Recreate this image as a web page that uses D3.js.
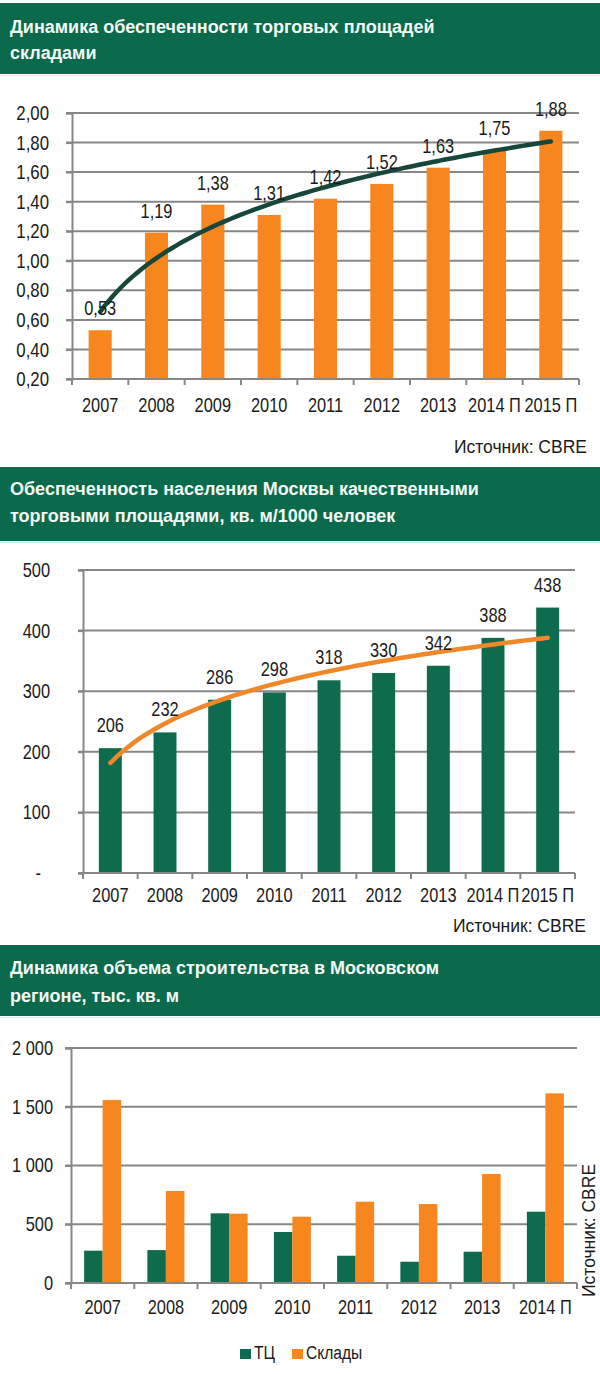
<!DOCTYPE html>
<html><head><meta charset="utf-8">
<script src="https://cdn.jsdelivr.net/npm/d3@7"></script>
<style>
html,body{margin:0;padding:0;background:#fff;}
svg{display:block;}
</style></head>
<body>
<script>
// ---------- DATA ----------
const titles1 = ["Динамика обеспеченности торговых площадей", "складами"];
const categories1 = ["2007","2008","2009","2010","2011","2012","2013","2014 П","2015 П"];
const values1 = [0.53,1.19,1.38,1.31,1.42,1.52,1.63,1.75,1.88];
const yTicks1 = [0.2,0.4,0.6,0.8,1.0,1.2,1.4,1.6,1.8,2.0];

const titles2 = ["Обеспеченность населения Москвы качественными", "торговыми площадями, кв. м/1000 человек"];
const categories2 = ["2007","2008","2009","2010","2011","2012","2013","2014 П","2015 П"];
const values2 = [206,232,286,298,318,330,342,388,438];
const yTicks2 = [0,100,200,300,400,500];

const titles3 = ["Динамика объема строительства в Московском", "регионе, тыс. кв. м"];
const categories3 = ["2007","2008","2009","2010","2011","2012","2013","2014 П"];
const seriesNames3 = ["ТЦ","Склады"];
const valuesTC = [275,280,593,434,232,181,266,607];
const valuesSklad = [1557,783,590,564,692,672,928,1614];
const yTicks3 = [0,500,1000,1500,2000];

const sourceText = "Источник: CBRE";

// ---------- STYLE ----------
const GREEN_BANNER = "#0b6a4b";
const GREEN_BAR = "#0f6b4d";
const ORANGE = "#f7861f";
const GRID = "#878787";
const TEXT = "#1a1a1a";
const SANS = "'Liberation Sans',Arial,sans-serif";
const K = 0.82; // horizontal condensation (Arial Narrow look)

const svg = d3.select("body").append("svg").attr("width",600).attr("height",1374);

const locComma = d3.formatLocale({decimal:",", thousands:" ", grouping:[3], currency:["",""]});
const fmt2 = locComma.format(".2f");
const fmtInt = locComma.format(",d");

function narrow(sel, size){
  sel.attr("font-family",SANS).attr("font-size",size).attr("fill",TEXT)
    .each(function(){
      const t = d3.select(this);
      const x = +t.attr("x") || 0;
      t.attr("transform",`translate(${x*(1-K)},0) scale(${K},1)`);
    });
}

function banner(y0, y1, lines, b1, b2){
  svg.append("rect").attr("x",0).attr("y",y0).attr("width",600).attr("height",y1-y0).attr("fill",GREEN_BANNER);
  svg.append("line").attr("x1",0).attr("x2",600).attr("y1",y1+1.5).attr("y2",y1+1.5).attr("stroke","#d6eeee").attr("stroke-width",1);
  svg.selectAll(null).data(lines).enter().append("text")
    .attr("x",10).attr("y",(d,i)=> i===0? b1 : b2)
    .attr("fill","#f4faf6").attr("font-family",SANS).attr("font-weight","bold").attr("font-size",18)
    .text(d=>d);
}

// log trendline computed by least-squares regression on ln(index)
function logFit(vals){
  const lx = vals.map((v,i)=>Math.log(i+1));
  const mx = d3.mean(lx), my = d3.mean(vals);
  const b = d3.sum(lx.map((l,i)=>(l-mx)*(vals[i]-my))) / d3.sum(lx.map(l=>(l-mx)*(l-mx)));
  const a = my - b*mx;
  return t => a + b*Math.log(t);
}

function xAxisBoundaries(g, x, yAxis, n){
  const r0 = x.range()[0], st = x.step();
  const b = d3.range(n+1).map(i=> r0 + i*st);
  g.selectAll(null).data(b).enter().append("line")
    .attr("x1",d=>d).attr("x2",d=>d).attr("y1",yAxis).attr("y2",yAxis+6)
    .attr("stroke",GRID).attr("stroke-width",2);
}

// ---------- CHART 1 ----------
banner(3, 74, titles1, 33, 59);
{
  const g = svg.append("g");
  const L = 72, R = 579, T = 113, B = 379;
  const x = d3.scaleBand().domain(categories1).range([L,R]).paddingInner(0.59).paddingOuter(0.295);
  const y = d3.scaleLinear().domain([0.2,2.0]).range([B,T]);
  g.selectAll(".grid").data(yTicks1.slice(1)).enter().append("line")
    .attr("x1",66).attr("x2",R).attr("y1",d=>y(d)).attr("y2",d=>y(d))
    .attr("stroke",GRID).attr("stroke-width",2);
  g.selectAll(".bar").data(values1).enter().append("rect")
    .attr("x",(d,i)=>x(categories1[i])).attr("width",x.bandwidth())
    .attr("y",d=>y(d)).attr("height",d=>B-y(d)).attr("fill",ORANGE);
  const ya = g.append("g").attr("transform",`translate(${L},0)`)
    .call(d3.axisLeft(y).tickValues(yTicks1).tickFormat(fmt2).tickSize(6).tickPadding(17));
  ya.select(".domain").attr("stroke",GRID).attr("stroke-width",2);
  ya.selectAll("line").attr("stroke",GRID).attr("stroke-width",2);
  narrow(ya.selectAll("text"), 20.5);
  g.append("line").attr("x1",66).attr("x2",R).attr("y1",B).attr("y2",B).attr("stroke",GRID).attr("stroke-width",2);
  xAxisBoundaries(g, x, B, categories1.length);
  const xa = g.append("g").attr("transform",`translate(0,${B})`)
    .call(d3.axisBottom(x).tickSize(0).tickPadding(19));
  xa.select(".domain").remove();
  narrow(xa.selectAll("text"), 20);
  const f = logFit(values1);
  const pts = d3.range(1, categories1.length+0.001, 0.1).map(t=>[x(categories1[0])+x.bandwidth()/2 + (t-1)*x.step(), y(f(t))]);
  g.append("path").attr("d", d3.line().curve(d3.curveBasis)(pts)).attr("fill","none")
    .attr("stroke","#17473a").attr("stroke-width",4.5).attr("stroke-linecap","round");
  narrow(g.selectAll(".lbl").data(values1).enter().append("text")
    .attr("x",(d,i)=>x(categories1[i])+x.bandwidth()/2).attr("y",d=>y(d)-15)
    .attr("text-anchor","middle").text(d=>fmt2(d)), 20);
  g.append("text").attr("x",587).attr("y",453).attr("text-anchor","end")
    .attr("font-family",SANS).attr("font-size",17.5).attr("fill",TEXT).text(sourceText);
}

// ---------- CHART 2 ----------
banner(467, 541, titles2, 495, 522);
{
  const g = svg.append("g");
  const L = 83, R = 575, T = 570, B = 873;
  const x = d3.scaleBand().domain(categories2).range([L,R]).paddingInner(0.58).paddingOuter(0.29);
  const y = d3.scaleLinear().domain([0,500]).range([B,T]);
  g.selectAll(".grid").data(yTicks2.slice(1)).enter().append("line")
    .attr("x1",78).attr("x2",R).attr("y1",d=>y(d)).attr("y2",d=>y(d))
    .attr("stroke",GRID).attr("stroke-width",2);
  g.selectAll(".bar").data(values2).enter().append("rect")
    .attr("x",(d,i)=>x(categories2[i])).attr("width",x.bandwidth())
    .attr("y",d=>y(d)).attr("height",d=>B-y(d)).attr("fill",GREEN_BAR);
  const ya = g.append("g").attr("transform",`translate(${L},0)`)
    .call(d3.axisLeft(y).tickValues(yTicks2).tickFormat(d=> d===0 ? "-" : String(d)).tickSize(5).tickPadding(28));
  ya.select(".domain").attr("stroke",GRID).attr("stroke-width",2);
  ya.selectAll("line").attr("stroke",GRID).attr("stroke-width",2);
  ya.selectAll(".tick").filter(d=>d===0).select("text").attr("x",-42);
  narrow(ya.selectAll("text"), 20);
  g.append("line").attr("x1",78).attr("x2",R).attr("y1",B).attr("y2",B).attr("stroke",GRID).attr("stroke-width",2);
  xAxisBoundaries(g, x, B, categories2.length);
  const xa = g.append("g").attr("transform",`translate(0,${B})`)
    .call(d3.axisBottom(x).tickSize(0).tickPadding(15));
  xa.select(".domain").remove();
  narrow(xa.selectAll("text"), 20);
  const f = logFit(values2);
  const pts = d3.range(1, categories2.length+0.001, 0.1).map(t=>[x(categories2[0])+x.bandwidth()/2 + (t-1)*x.step(), y(f(t))]);
  g.append("path").attr("d", d3.line().curve(d3.curveBasis)(pts)).attr("fill","none")
    .attr("stroke","#f0882a").attr("stroke-width",4.5).attr("stroke-linecap","round");
  narrow(g.selectAll(".lbl").data(values2).enter().append("text")
    .attr("x",(d,i)=>x(categories2[i])+x.bandwidth()/2).attr("y",d=>y(d)-16)
    .attr("text-anchor","middle").text(d=>d), 20);
  g.append("text").attr("x",586).attr("y",932).attr("text-anchor","end")
    .attr("font-family",SANS).attr("font-size",17.5).attr("fill",TEXT).text(sourceText);
}

// ---------- CHART 3 ----------
banner(945, 1016, titles3, 974, 1002);
{
  const g = svg.append("g");
  const L = 71, R = 577, T = 1048, B = 1283;
  const x = d3.scaleBand().domain(categories3).range([L,R]).paddingInner(0.415).paddingOuter(0.2075);
  const xs = d3.scaleBand().domain(seriesNames3).range([0,x.bandwidth()]);
  const y = d3.scaleLinear().domain([0,2000]).range([B,T]);
  g.selectAll(".grid").data(yTicks3.slice(1)).enter().append("line")
    .attr("x1",65).attr("x2",R).attr("y1",d=>y(d)).attr("y2",d=>y(d))
    .attr("stroke",GRID).attr("stroke-width",2);
  const series = [valuesTC, valuesSklad];
  const colors = [GREEN_BAR, ORANGE];
  series.forEach((vals,si)=>{
    g.selectAll(null).data(vals).enter().append("rect")
      .attr("x",(d,i)=>x(categories3[i]) + xs(seriesNames3[si])).attr("width",xs.bandwidth())
      .attr("y",d=>y(d)).attr("height",d=>B-y(d)).attr("fill",colors[si]);
  });
  const ya = g.append("g").attr("transform",`translate(${L},0)`)
    .call(d3.axisLeft(y).tickValues(yTicks3).tickFormat(fmtInt).tickSize(6).tickPadding(12));
  ya.select(".domain").attr("stroke",GRID).attr("stroke-width",2);
  ya.selectAll("line").attr("stroke",GRID).attr("stroke-width",2);
  narrow(ya.selectAll("text"), 20);
  g.append("line").attr("x1",65).attr("x2",R).attr("y1",B).attr("y2",B).attr("stroke",GRID).attr("stroke-width",2);
  xAxisBoundaries(g, x, B, categories3.length);
  const xa = g.append("g").attr("transform",`translate(0,${B})`)
    .call(d3.axisBottom(x).tickSize(0).tickPadding(17));
  xa.select(".domain").remove();
  narrow(xa.selectAll("text"), 20);
  g.append("text").attr("transform","translate(595,1297) rotate(-90)")
    .attr("font-family",SANS).attr("font-size",17.5).attr("fill",TEXT).text(sourceText);
  const lg = g.append("g");
  const lx = [240, 292];
  seriesNames3.forEach((s,i)=>{
    lg.append("rect").attr("x",lx[i]).attr("y",1349).attr("width",11).attr("height",10).attr("fill",colors[i]);
    narrow(lg.append("text").attr("x",lx[i]+14).attr("y",1359).text(s), 19);
  });
}
</script>
</body></html>
